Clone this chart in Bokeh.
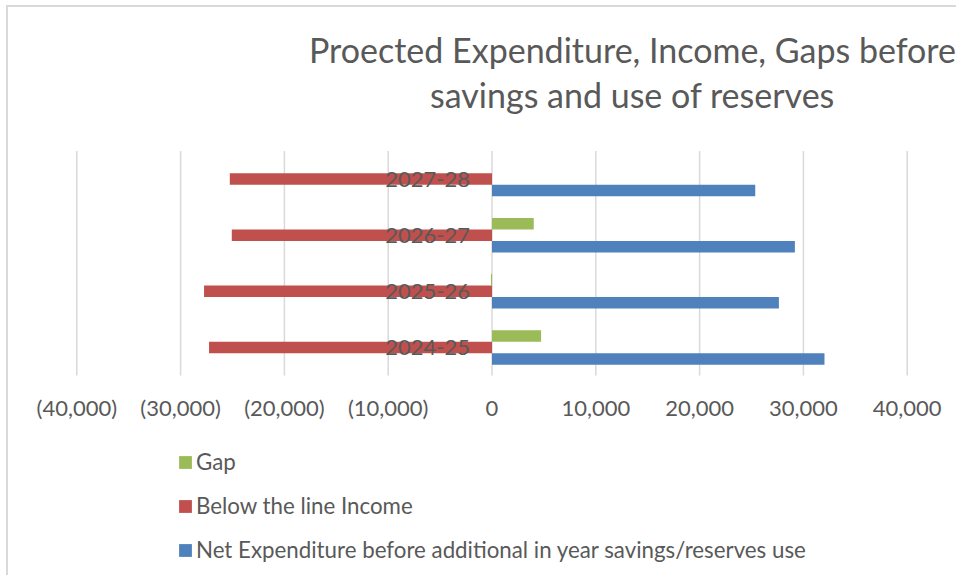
from bokeh.plotting import figure
from bokeh.models import (Range1d, FixedTicker, CustomJSTickFormatter, Legend,
                          LegendItem, Label, ColumnDataSource)
from bokeh.core.properties import value
from bokeh.embed import file_html
from bokeh.resources import INLINE

# ---- data -------------------------------------------------------------
years = ["2024-25", "2025-26", "2026-27", "2027-28"]
net_expenditure = [32030, 27640, 29180, 25360]
below_line_income = [-27260, -27740, -25070, -25260]
gap = [4730, -100, 4020, 0]
x_ticks = [-40000, -30000, -20000, -10000, 0, 10000, 20000, 30000, 40000]
title_lines = ["Proected Expenditure, Income, Gaps before",
               "savings and use of reserves"]
series_names = ["Gap", "Below the line Income",
                "Net Expenditure before additional in year savings/reserves use"]

# ---- style / layout ---------------------------------------------------
FONT = "Lato"
GREY = "#595959"
GRID = "#d9d9d9"
BLUE, RED, GREEN = "#4F81BD", "#C0504D", "#9BBB59"
BAR_H = 0.205
CAT_LO, CAT_HI = -0.5, 3.5          # extent of the category (plot) area
X_VIEW = (-46580, 44942)            # visible x extent of the whole canvas
Y_VIEW = (-4.099, 6.057)            # visible y extent of the whole canvas

pos = list(range(len(years)))
src = ColumnDataSource(dict(
    year=years,
    y_exp=[i - BAR_H for i in pos],
    y_inc=[i for i in pos],
    y_gap=[i + BAR_H for i in pos],
    exp=net_expenditure, inc=below_line_income, gap=gap,
    zero=[0] * len(years),
))

p = figure(width=950, height=570, output_backend="svg", toolbar_location=None,
           x_range=Range1d(*X_VIEW), y_range=Range1d(*Y_VIEW),
           min_border_left=0, min_border_right=0,
           min_border_top=0, min_border_bottom=0)
p.styles = {"margin-left": "6px", "margin-top": "5px",
            "border-top": "2px solid " + GRID, "border-left": "2px solid " + GRID}
p.outline_line_color = None
p.background_fill_color = "white"
p.border_fill_color = "white"
p.xgrid.visible = False
p.ygrid.visible = False
p.yaxis.visible = False

# vertical gridlines at the tick values, spanning the category area
p.segment(x0=x_ticks, x1=x_ticks, y0=[CAT_LO] * len(x_ticks),
          y1=[CAT_HI] * len(x_ticks), line_color=GRID, line_width=1.5)

r_exp = p.hbar(y="y_exp", left=0, right="exp", height=BAR_H, source=src,
               fill_color=BLUE, line_color=None)
r_inc = p.hbar(y="y_inc", left=0, right="inc", height=BAR_H, source=src,
               fill_color=RED, line_color=None)
r_gap = p.hbar(y="y_gap", left=0, right="gap", height=BAR_H, source=src,
               fill_color=GREEN, line_color=None)

# category labels next to the zero axis
p.text(x="zero", y="y_inc", text="year", source=src, x_offset=-22,
       text_align="right", text_baseline="middle",
       text_font=value(FONT), text_font_size="22px", text_color=GREY)

# value axis, pinned to the bottom of the category area
ax = p.xaxis[0]
ax.fixed_location = CAT_LO
ax.ticker = FixedTicker(ticks=x_ticks)
ax.formatter = CustomJSTickFormatter(code="""
    const a = Math.abs(tick).toLocaleString('en-US');
    return tick < 0 ? '(' + a + ')' : a;
""")
ax.axis_line_color = None
ax.major_tick_line_color = None
ax.minor_tick_line_color = None
ax.major_tick_out = 0
ax.major_tick_in = 0
ax.major_label_standoff = 18
ax.major_label_text_font = FONT
ax.major_label_text_font_size = "22px"
ax.major_label_text_color = GREY

# title (centred right of the plot centre, as in the source chart)
for txt, yy in zip(title_lines, [5.30, 4.50]):
    p.add_layout(Label(x=13536, y=yy, text=txt, text_align="center",
                       text_baseline="alphabetic", text_font=FONT,
                       text_font_size="34px", text_color=GREY))

legend = Legend(items=[LegendItem(label=series_names[0], renderers=[r_gap]),
                       LegendItem(label=series_names[1], renderers=[r_inc]),
                       LegendItem(label=series_names[2], renderers=[r_exp])],
                location=(169, 14), orientation="vertical",
                glyph_width=16, glyph_height=16, label_standoff=3, spacing=17,
                label_text_font=FONT, label_text_font_size="22.3px",
                label_text_color=GREY, border_line_color=None,
                background_fill_alpha=0, padding=0, margin=0)
p.add_layout(legend)

open("out.html", "w").write(file_html(p, INLINE))
